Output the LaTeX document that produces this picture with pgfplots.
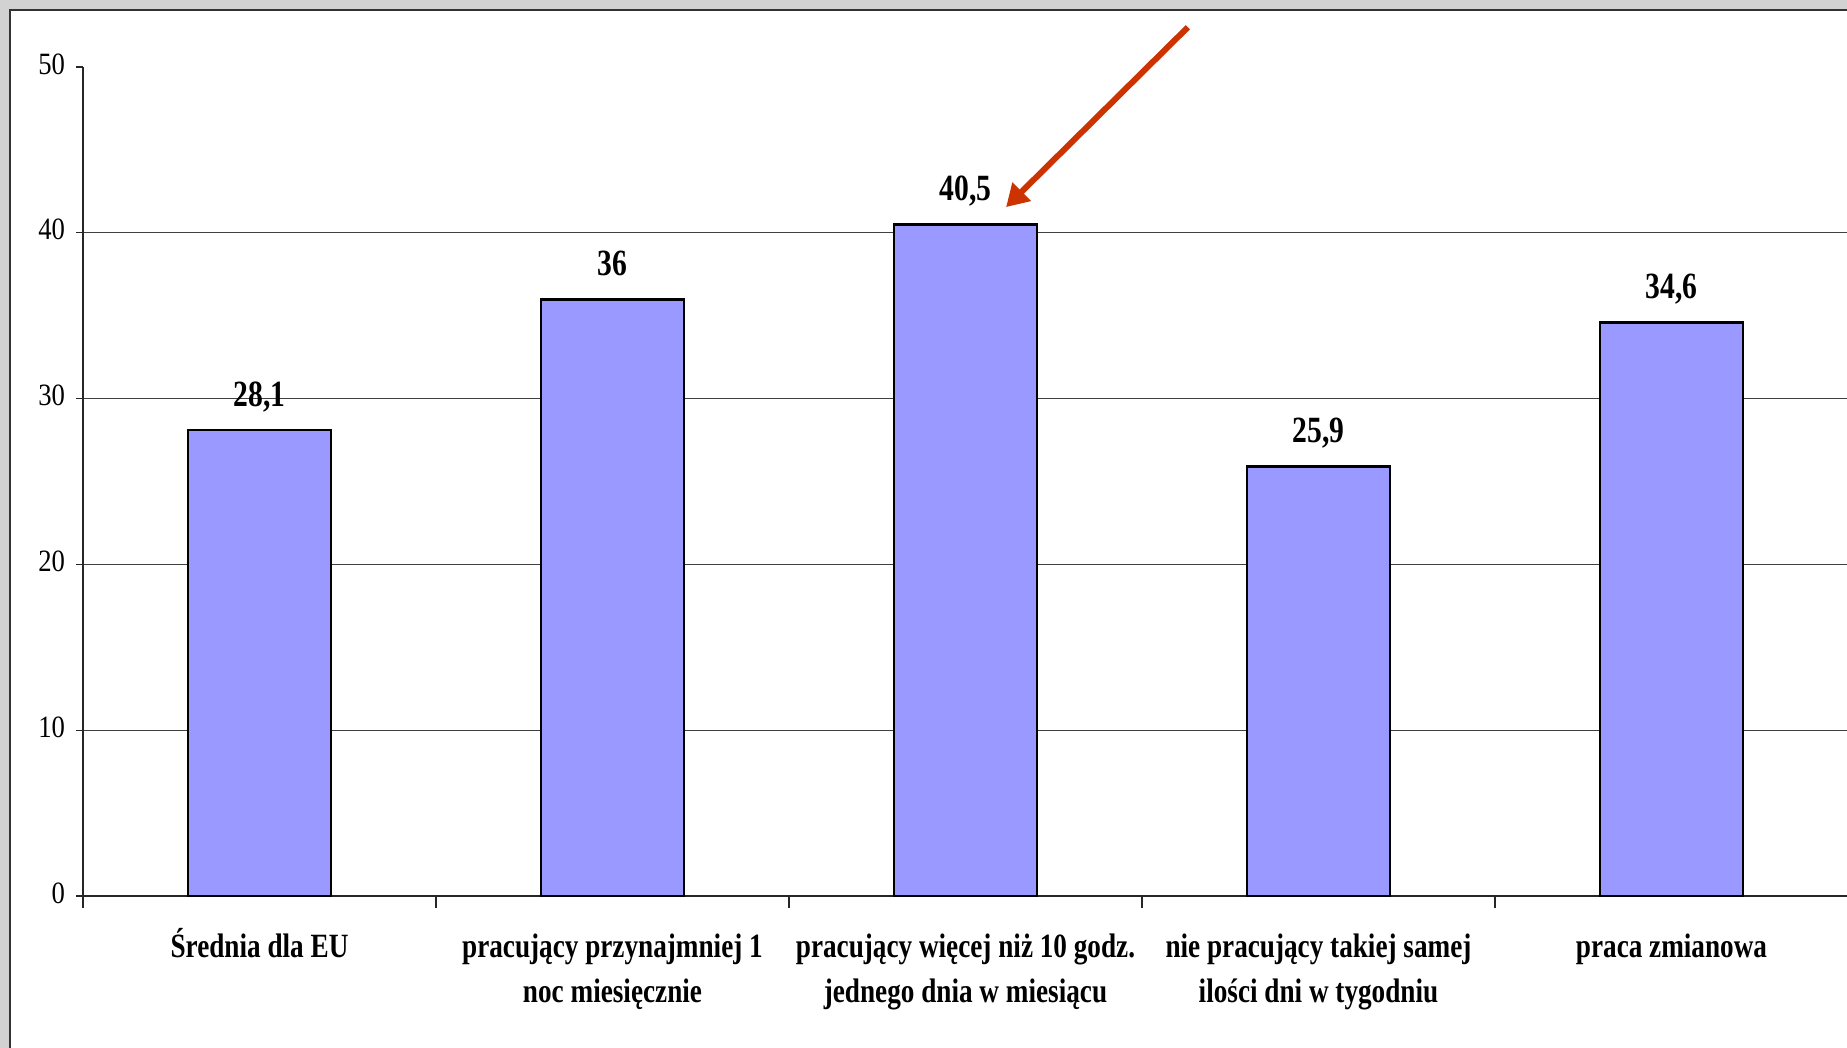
\documentclass[border=0pt]{standalone}
\usepackage{pgfplots}
\pgfplotsset{compat=1.18}
\usepackage{pgfplotstable}
\usepackage{fontspec}
\setmainfont{Liberation Serif}
\newfontfamily\narrowserif[FakeStretch=0.8]{Liberation Serif}
\newfontfamily\tickserif[FakeStretch=0.86]{Liberation Serif}
\usetikzlibrary{arrows.meta}

\definecolor{barblue}{HTML}{9999FF}
\definecolor{arrowred}{HTML}{CC3300}
\definecolor{framegray}{HTML}{D2D2D2}
\definecolor{frameline}{HTML}{333333}

% share of workers (%) per working-time group
\pgfplotstableread{
x y label
0 28.1 28,1
1 36.0 36
2 40.5 40,5
3 25.9 25,9
4 34.6 34,6
}\shares

\begin{document}
\begin{tikzpicture}
\useasboundingbox (-41.5pt,-76pt) rectangle (882pt,448pt);
\fill[white] (-41.5pt,-76pt) rectangle (882pt,448pt);
\fill[framegray] (-41.5pt,443.5pt) rectangle (882pt,448pt);
\fill[framegray] (-41.5pt,-76pt) rectangle (-37pt,448pt);
\draw[frameline, line width=1pt] (-36.5pt,-76pt) -- (-36.5pt,443pt) -- (882pt,443pt);
\begin{axis}[
  at={(0pt,0pt)}, anchor=south west,
  scale only axis, width=882.5pt, height=414.5pt,
  xmin=-0.5, xmax=4.5, ymin=0, ymax=50,
  axis x line*=bottom, axis y line*=left,
  axis line style={black!85, line width=0.6pt, -},
  tick align=outside,
  major tick length=3.5pt,
  minor tick length=6pt,
  ytick={0,10,20,30,40},
  extra y ticks={50},
  extra y tick style={grid=none},
  ymajorgrids,
  grid style={black!75, line width=0.55pt},
  y tick style={black!85, line width=0.6pt},
  xtick={0,1,2,3,4},
  major x tick style={draw=none},
  minor xtick={-0.5,0.5,1.5,2.5,3.5,4.5},
  minor x tick style={black!85, line width=0.6pt},
  xticklabels={
    {Średnia dla EU},
    {pracujący przynajmniej 1\\noc miesięcznie},
    {pracujący więcej niż 10 godz.\\jednego dnia w miesiącu},
    {nie pracujący takiej samej\\ilości dni w tygodniu},
    {praca zmianowa}},
  typeset ticklabels with strut,
  xticklabel style={font=\narrowserif\bfseries\fontsize{17}{22.5}\selectfont,
    align=center, anchor=north, yshift=-8pt},
  yticklabel style={font=\tickserif\fontsize{15.5}{18}\selectfont, xshift=-2pt},
  /pgf/number format/assume math mode=true,
  clip=false,
]
\addplot[ybar, bar width=71.5pt, fill=barblue, draw=black, line width=1.4pt,
  nodes near coords, point meta=explicit symbolic,
  every node near coord/.append style={font=\narrowserif\bfseries\fontsize{18.5}{20}\selectfont,
    anchor=base, yshift=12pt}]
  table[x=x, y=y, meta=label] {\shares};
\draw[arrowred, line width=3pt, -{Triangle[length=11pt, width=12.5pt]}]
  (axis cs:2.63,52.4) -- (axis cs:2.115,41.55);
\end{axis}
\end{tikzpicture}
\end{document}
